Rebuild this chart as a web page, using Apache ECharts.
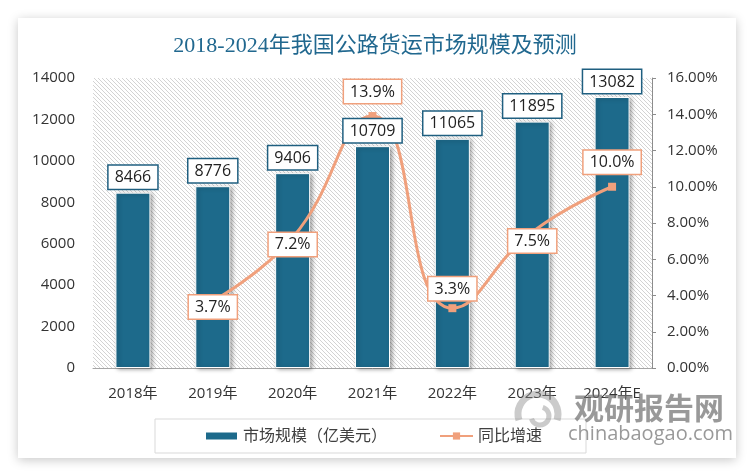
<!DOCTYPE html>
<html>
<head>
<meta charset="utf-8">
<script src="https://cdn.jsdelivr.net/npm/echarts@6/dist/echarts.min.js"></script>
<style>
html,body{margin:0;padding:0;background:#ffffff;}
#main{width:750px;height:471px;}
</style>
</head>
<body>
<div id="main"></div>
<script>
// ---- data ----
const categories = ['2018年','2019年','2020年','2021年','2022年','2023年','2024年E'];
const marketSize = [8466, 8776, 9406, 10709, 11065, 11895, 13082];
const growthRate = [null, 3.7, 7.2, 13.9, 3.3, 7.5, 10.0];
const leftTicks = {min: 0, max: 14000, interval: 2000};
const rightTicks = {min: 0, max: 16, interval: 2};
const titleText = '2018-2024年我国公路货运市场规模及预测';
const barName = '市场规模（亿美元）';
const lineName = '同比增速';

// ---- styles ----
const barColor = '#1d6a8b';
const lineColor = '#f0a07c';
const txtFont = '"Open Sans","Noto Sans CJK SC",sans-serif';

const hatch = document.createElement('canvas');
hatch.width = 4; hatch.height = 4;
const hc = hatch.getContext('2d');
hc.fillStyle = '#ffffff'; hc.fillRect(0,0,4,4);
hc.fillStyle = '#d3d3d3';
for (let i = 0; i < 4; i++) hc.fillRect(i, i, 1, 1);

// per-point label placement for growth line
const lineLabelPos = [
  null,
  {position: 'inside', offset: [0, 6]},
  {position: 'inside', offset: [0, 7]},
  {position: 'top', distance: 9},
  {position: 'top', distance: 4},
  {position: 'inside', offset: [0, 9]},
  {position: 'top', distance: 9}
];

const lineData = growthRate.map((v, i) => {
  if (v === null) return null;
  return {value: v, label: Object.assign({}, lineLabelPos[i])};
});

const chart = echarts.init(document.getElementById('main'), null, {renderer: 'canvas'});

const option = {
  backgroundColor: '#ffffff',
  animation: false,
  title: {
    text: titleText,
    left: 'center',
    top: 30,
    textStyle: {
      color: '#21688f',
      fontSize: 22,
      fontWeight: 'normal',
      fontFamily: '"Liberation Serif","Noto Sans CJK SC",serif'
    }
  },
  graphic: [
    {
      type: 'rect', z: -10, silent: true,
      shape: {x: 18, y: 18, width: 718, height: 440},
      style: {fill: '#ffffff', shadowBlur: 10, shadowColor: 'rgba(0,0,0,0.22)', shadowOffsetY: 2}
    },
    {
      type: 'arc', z: 100, silent: true,
      shape: {cx: 538, cy: 414, r: 20, startAngle: Math.PI * 0.9, endAngle: Math.PI * 2.1},
      style: {stroke: 'rgba(140,140,140,0.45)', lineWidth: 7, fill: null}
    },
    {
      type: 'arc', z: 100, silent: true,
      shape: {cx: 540, cy: 416, r: 9, startAngle: Math.PI * 1.6, endAngle: Math.PI * 2.9},
      style: {stroke: 'rgba(140,140,140,0.45)', lineWidth: 5, fill: null}
    },
    {
      type: 'text', z: 100, silent: true,
      left: 574, top: 393,
      style: {text: '观研报告网', fill: 'rgba(110,110,110,0.7)', font: 'bold 30px "Noto Sans CJK SC", sans-serif'}
    },
    {
      type: 'text', z: 100, silent: true,
      left: 568, top: 424,
      style: {text: 'chinabaogao.com', fill: 'rgba(110,110,110,0.7)', font: '20px "Open Sans", sans-serif'}
    }
  ],
  grid: {
    left: 93, right: 98, top: 78, bottom: 103,
    show: true,
    borderWidth: 0,
    backgroundColor: {image: hatch, repeat: 'repeat'}
  },
  legend: {
    left: 155, top: 419,
    padding: [9, 44, 9, 49],
    borderColor: '#d9d9d9', borderWidth: 1,
    itemGap: 52,
    itemWidth: 33, itemHeight: 9,
    textStyle: {fontSize: 16, color: '#404040', fontFamily: txtFont},
    data: [
      {name: barName, icon: 'rect'},
      {name: lineName}
    ]
  },
  xAxis: {
    type: 'category',
    data: categories,
    axisLine: {lineStyle: {color: '#a6a6a6', width: 1}},
    axisTick: {show: false},
    axisLabel: {color: '#333', fontSize: 15, fontFamily: txtFont, margin: 18}
  },
  yAxis: [
    {
      type: 'value',
      min: leftTicks.min, max: leftTicks.max, interval: leftTicks.interval,
      axisLine: {show: false},
      axisTick: {show: false},
      splitLine: {show: false},
      axisLabel: {color: '#333', fontSize: 15, fontFamily: txtFont, margin: 18,
        formatter: v => String(v)}
    },
    {
      type: 'value',
      position: 'right',
      min: rightTicks.min, max: rightTicks.max, interval: rightTicks.interval,
      axisLine: {show: true, lineStyle: {color: '#8c8c8c'}},
      axisTick: {show: true, length: 4, lineStyle: {color: '#8c8c8c'}},
      splitLine: {show: false},
      axisLabel: {color: '#333', fontSize: 15, fontFamily: txtFont, margin: 15,
        formatter: v => v.toFixed(2) + '%'}
    }
  ],
  series: [
    {
      name: barName,
      type: 'bar',
      data: marketSize,
      barWidth: 35,
      z: 2,
      itemStyle: {
        color: barColor,
        borderColor: '#ffffff', borderWidth: 1,
        shadowBlur: 4, shadowColor: 'rgba(0,0,0,0.35)', shadowOffsetX: 2, shadowOffsetY: 1
      },
      label: {show: false}
    },
    {
      name: lineName,
      type: 'line',
      yAxisIndex: 1,
      data: lineData,
      smooth: 0.5,
      z: 3,
      symbol: 'rect',
      symbolSize: 8,
      lineStyle: {color: lineColor, width: 3},
      itemStyle: {color: lineColor},
      label: {
        show: true,
        formatter: p => p.value.toFixed(1) + '%',
        color: '#222', fontSize: 16, fontFamily: txtFont,
        backgroundColor: '#ffffff',
        borderColor: lineColor, borderWidth: 1.5,
        padding: [4, 6, 3, 6]
      }
    },
    {
      name: barName + '_label',
      type: 'bar',
      data: marketSize,
      barWidth: 35,
      barGap: '-100%',
      z: 4,
      silent: true,
      itemStyle: {color: 'rgba(0,0,0,0)'},
      label: {
        show: true,
        position: 'top',
        distance: 4,
        color: '#222', fontSize: 16, fontFamily: txtFont,
        backgroundColor: '#ffffff',
        borderColor: '#1f5f80', borderWidth: 1.5,
        padding: [4, 6, 3, 6]
      }
    }
  ]
};
chart.setOption(option);
</script>
</body>
</html>
